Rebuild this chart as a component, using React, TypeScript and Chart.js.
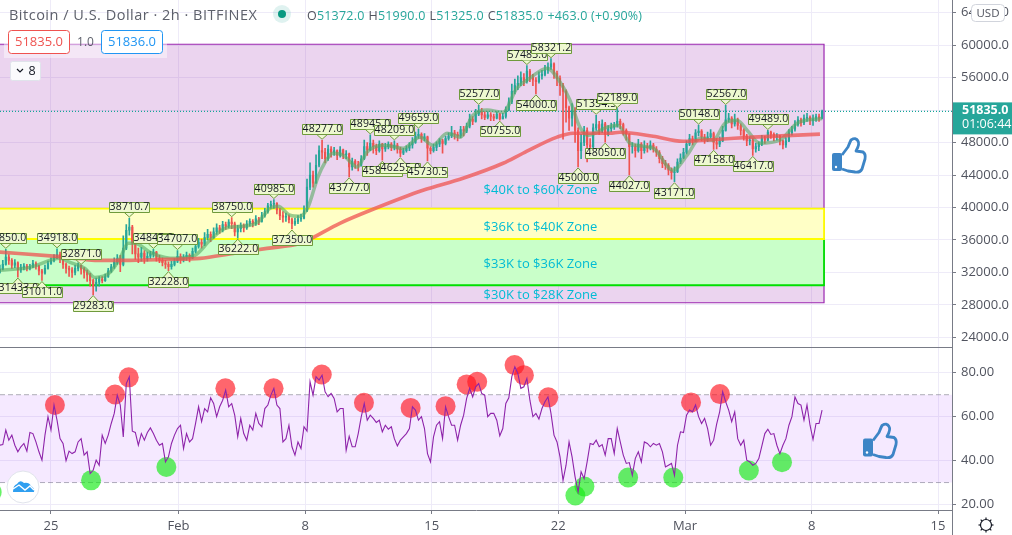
import React, { useEffect, useRef } from "react";
import { Chart, registerables } from "chart.js";

Chart.register(...registerables);

// ---------- data (bars are 4h steps, x axis unit = bar number) ----------
const closes = [32400,33000,33900,33500,32900,33200,32300,32600,32800,32500,32700,33100,32800,32200,31900,32500,33100,33500,33900,34200,33800,33000,32500,32300,32000,32500,32900,32400,32000,31700,31000,30300,30800,31200,31000,31500,32200,32700,33300,33700,33000,35000,37200,37600,35600,34300,33900,34400,33700,34000,34300,34500,33800,33500,33200,33000,32700,33000,33400,34000,33600,33900,34100,33800,34600,35200,35700,35500,36300,36700,36300,37000,37500,37200,37900,37700,38200,38000,37000,37400,37800,37500,38000,38300,38000,38600,38300,39000,39500,40200,40400,40500,39700,39000,38800,38900,38500,38000,38300,38600,38700,39600,42500,44000,43000,45200,47000,46800,46000,47200,46800,47000,46400,47100,46500,46600,45000,45700,45300,45200,46000,47500,47100,47900,47500,47000,47800,47200,47500,47800,47400,47700,47200,46700,47000,47300,47700,48000,48800,49000,48500,48700,47300,47000,47400,47800,48200,47900,48500,48800,49200,49000,48800,49600,49400,50000,50900,50600,51500,51800,51400,51100,51400,51200,51000,51500,50900,51200,52000,53000,54300,55000,55300,56000,55500,56800,56000,55700,55500,56200,56400,56900,57300,57700,56500,55900,55000,54300,52300,51000,52000,49500,47000,48000,49500,47700,47500,49800,50200,49500,50300,49000,49700,49900,50100,50600,50200,49500,49000,47500,47500,47000,47800,47000,47500,47300,47700,47200,46800,46000,45400,45200,44600,44300,44400,45600,46100,46800,47800,48500,48200,49200,49400,48700,48400,48700,49100,48000,47800,48200,49500,50800,51000,50300,50800,50100,49500,48800,48200,48300,47200,47500,47800,48500,48300,49300,49000,48700,48800,48200,47700,48200,49200,49600,50200,50800,50400,51000,51100,50700,50900,51200,51000,51835];
const highs = [32900,33500,34850,34200,33700,33600,33300,33000,33100,33000,33000,33500,33300,32900,32400,32900,33400,33800,34200,34918,34500,34000,33200,32800,32600,32900,33200,32871,32600,32300,31900,31200,31300,31500,31500,31800,32500,33000,33800,34200,34100,36500,37900,38710.7,37800,35900,35000,35100,34700,34500,34600,34845,34600,34100,33800,33500,33300,33400,33700,34707,34300,34200,34500,34300,35000,35700,36200,36100,36900,37300,37000,37500,38000,37800,38300,38200,38500,38750,38200,37800,38100,38000,38400,38600,38500,39000,38800,39400,39900,40500,40800,40985,40600,39900,39500,39300,39100,38700,38700,39000,39200,40200,43500,45500,44500,46500,47600,48277,47300,47700,47500,47400,47100,47500,47200,47000,46700,46100,45900,45700,46400,48300,48000,48945,48300,47800,48200,47900,47900,48100,48000,48209,47900,47400,47300,47600,48000,48600,49300,49659,49200,49100,48800,47500,47800,48100,48500,48400,48800,49200,50000,49500,49300,50000,50000,50400,51500,51200,52100,52577,52200,51800,51800,51700,51500,51800,51600,51600,52400,53500,55200,55800,56200,56700,56500,57483,57000,56400,56000,56700,56900,57500,57800,58321.2,57800,56800,56200,55300,54500,52500,52800,52300,49800,49000,50000,49800,48500,50300,51354.5,50600,50800,50500,50100,50400,50500,52189,50900,50400,49700,49100,48000,47800,48400,48000,48200,47900,48200,47900,47500,47000,46300,45800,45400,44900,45000,46000,46600,47300,48200,49000,48800,49600,50148,49600,49000,49300,49600,49300,48500,48700,50000,52567,51600,51200,51500,51000,50300,49700,49000,48700,48500,47900,48100,48900,48800,49489,49400,49200,49100,48900,48300,48600,49600,50000,50700,51200,51000,51400,51600,51300,51400,51500,51500,51990];
const lows = [31900,32300,32900,33000,32500,32600,31430,32000,32300,32200,32300,32600,32400,31700,31011,31800,32400,33000,33300,33700,33200,32500,31900,31500,31400,31700,32200,31800,31300,30900,30300,29283,29700,30300,30700,30900,31400,32000,32500,33000,32100,32800,34800,36600,34300,33600,33200,33400,33100,33400,33700,33900,33400,33200,32800,32500,32228,32400,32800,33200,33100,33300,33500,33300,33700,34400,35000,35000,35300,36000,35800,36200,36700,36800,37000,37300,37500,37400,36500,36222,37000,37000,37300,37700,37600,37800,37900,38200,38800,39300,39900,39900,39200,38500,38200,38300,38100,37350,37800,38000,38300,38600,39500,42200,42500,43000,45000,46000,45500,45800,46200,46400,45900,46200,46000,46000,43777,44600,44800,44500,45100,45900,46400,47000,46700,46500,46800,45820,46900,47200,47000,47100,46700,46255,46500,46800,47000,47300,47900,48500,48000,48200,45730.5,46600,46800,47000,47500,46700,47700,48300,48600,48400,48200,48600,48800,49200,49800,50200,50500,51300,50900,50800,50900,50700,50700,50900,50755,50900,51000,51900,52800,54000,54500,55000,55000,55300,55500,55000,54000,55300,55800,56200,56500,57000,55900,55000,53800,48400,50500,49500,50000,48000,45000,46000,47600,45600,46800,47300,49500,49000,49200,48050,48800,49300,49600,49900,49700,48900,48300,44027,46700,46200,46800,46000,46700,46800,47100,46800,46300,45500,44900,44700,44000,43500,43171,44300,45400,46000,46600,47600,47700,48100,48800,48200,47900,48100,48500,47158,47200,47500,48100,49400,50500,49800,50000,49600,48900,48300,47600,47700,46417,46800,47000,47600,47900,48200,48500,48200,48300,47700,47200,47400,48100,48900,49400,50000,50000,50200,50600,50200,50100,50600,50600,50900];

const fastMaBars = [0,10,20,23.3,28.3,31.6,36.6,39.9,42.6,44.9,49.9,54.9,58.2,64.8,69.8,74.8,79.8,85.7,89.7,92.4,96.4,99.7,102.3,105.6,108,110.6,114,116.9,118.6,121.9,127.2,133.9,139.5,143.8,148.5,152.8,157.1,161.8,167.1,171.7,176,181.7,186,189.3,192.6,195.3,201.6,205.2,209.2,216.9,223.5,228.2,232.5,236.8,240.8,244.8,248.1,252.4,259,264.7,273];
const fastMaValues = [32260,32630,33740,33240,32500,31390,32010,33740,35590,35590,34480,33860,33740,34110,35960,37440,37680,38180,39900,40150,39040,38920,40020,43720,45570,46680,46440,45450,44960,46810,47670,47300,48660,47670,49150,48660,51370,51990,51740,54700,55930,57160,55440,53220,49890,48900,49890,50140,47920,47300,44590,46440,48530,48280,50380,50750,49520,47920,48280,50380,50960];
const slowMaBars = [0,19,33.3,40.9,55.5,66.5,77.4,88.7,99.7,112.9,123.9,140.5,153.8,167.1,173.7,185,190.3,202.6,205.9,216.9,226.8,239.1,250.1,272.3];
const slowMaValues = [34510,33980,33490,33490,33610,33740,34350,34970,35590,38060,39780,42120,43600,45450,46680,48660,49150,49150,49270,48780,48160,48410,48660,49030];

const rsiValues = [47,47.3,53.9,49.3,51.6,47,44,46.3,47.8,44.3,52.8,52.3,48.5,44,40.2,51.6,60,53.9,65.3,58.4,50,47.8,40,44.3,43.2,44,48.5,50,42.5,44,34.1,35.6,40.2,37.9,51.6,47.8,51.6,56.9,61.5,69.8,65.3,50.8,75.1,78.2,53.4,52.8,47,52.3,49.3,52.8,54.9,52.3,49.3,47,47.8,39.4,41.7,47.8,51.6,54.6,56.1,45.5,52.3,48.5,50,56.9,64.5,57.7,63.7,62.2,68.6,66,60,64.5,67.5,72.1,64.5,66,60.7,50.8,59.2,52.3,49.3,56.1,53.9,61.5,56.9,55.4,63.7,65.3,69.8,72.9,65.3,63.7,48.5,50,56.1,46.3,42.5,48.5,45.5,55.4,53.4,75.9,69.8,78.2,76.7,78.9,71.3,69.1,70.6,68.3,62.2,63.7,63.7,44.7,51.1,46.3,46.3,52.3,59.9,66,58.4,60.7,59.2,57.4,58.4,53.1,56.1,54.3,55.4,50,46.7,49.3,50.8,52.3,54.6,64.5,63,58.4,60,54.6,43.2,39.4,50.8,56.1,57.7,50,64.5,60,56.1,56.1,49.3,56.1,60.7,68.3,72.9,69,73.6,75.1,70.6,69.8,60,61.5,61.5,58.4,51.3,54.6,66,68.6,78.2,82.7,79.7,72.9,73.6,77.4,67.5,60,61.5,58.9,63.7,66.8,69,61.5,51.6,48.5,41.7,31,37.9,48.5,41.7,32.6,25.7,34.9,31.8,39.4,47.8,47.3,49.3,46.3,47.3,42.5,50,50,43.2,54.6,48.5,42.5,38.7,39.1,33.3,41,44,39.4,48.5,47.8,46.3,47.8,47,47.8,44,37.1,37.9,38.7,33.3,47,53.1,52.8,60.7,63,62.2,65.3,60,56.9,59.2,54.6,47,49.3,56.6,62.2,71.3,66.8,63,57.7,62.2,50,47,49.3,40.2,39.4,37.9,38.7,40.9,46.6,52.3,54.3,51.9,52.3,47,43.2,47,50,56.1,60,69,66,65.3,58.4,65.3,56.1,49.6,56.9,56.9,63];

const redDotBars = [18.3,38.25,42.8,74.9,90.9,106.9,120.9,136.4,148,155,158.5,170.9,174,182.1,229.5,239.1];
const redDotRsi = [65.3,70.1,77.9,72.9,72.9,79.2,66.3,64,64.8,74.7,75.9,83.5,78.9,68.8,66.5,70.3];
const greenDotBars = [-2.7,30.3,55.3,191.1,194.1,208.6,223.6,248.7,259.7];
const greenDotRsi = [25.7,31,37.1,24.1,28.2,32.3,32.3,35.5,39.3];

const highPivotBars = [2,19,27,43,51,59,77,91,107,123,131,139,159,175,183,198,205,232,241,255];
const highPivotPrices = [34850,34918,32871,38710.7,34845,34707,38750,40985,48277,48945,48209,49659,52577,57483,58321.2,51354.5,52189,50148,52567,49489];
const lowPivotBars = [6,14,31,56,79,97,116,127,133,142,166,178,192,201,209,224,237,250];
const lowPivotPrices = [31433,31011,29283,32228,36222,37350,43777,45820,46255,45730.5,50755,54000,45000,48050,44027,43171,47158,46417];

const zoneTops = [60100, 36120, 39850];
const zoneBottoms = [28275, 30430, 36120];
const zoneEndBar = 273.65;
const zoneTexts = ["$40K to $60K Zone", "$36K to $40K Zone", "$33K to $36K Zone", "$30K to $28K Zone"];
const zoneTextPrices = [42150, 37600, 32950, 29250];
const zoneTextBar = 179.5;

const priceTicks = [64000,60000,56000,52000,48000,44000,40000,36000,32000,28000,24000];
const rsiTicks = [80,60,40,20];
const timeTickBars = [17,59.3,101.4,143.4,185.4,227.5,269.6,311.5];
const timeTickLabels = ["25","Feb","8","15","22","Mar","8","15"];

const lastPrice = 51835;
const ohlcPairs: [string, string][] = [["O","51372.0"],["H","51990.0"],["L","51325.0"],["C","51835.0"]];
const ohlcChange = "+463.0 (+0.90%)";
const title = "Bitcoin / U.S. Dollar · 2h · BITFINEX";

// ---------- style ----------
const UP = "#26a69a";
const DOWN = "#ef5350";
const AXIS = "#787b86";
const GRID = "#eeebf8";
const TXT = "#50535e";
const FONT = "'Open Sans', 'Noto Sans', sans-serif";
const ZONE_FILLS = ["rgba(156,39,176,0.2)", "#c9ffc9", "#ffffc6"];
const ZONE_LINES = ["#9c27b0", "#00e000", "#ffff00"];
const X_MIN = 0.07;
const X_MAX = 316.14;

function roundBox(ctx: CanvasRenderingContext2D, x: number, y: number, w: number, h: number, r: number) {
  ctx.beginPath();
  ctx.roundRect(x, y, w, h, r);
}

function drawCallout(ctx: CanvasRenderingContext2D, x: number, y: number, text: string, above: boolean) {
  const w = 40, h = 10, gap = 5;
  const boxY = above ? y - gap - h : y + gap;
  const baseY = above ? boxY + h : boxY;
  ctx.fillStyle = "#eef9d0";
  ctx.strokeStyle = "#6f9a3c";
  ctx.lineWidth = 1;
  ctx.beginPath();
  ctx.rect(Math.round(x - w / 2) + 0.5, Math.round(boxY) + 0.5, w, h);
  ctx.fill();
  ctx.stroke();
  ctx.beginPath();
  ctx.moveTo(x - 5, baseY + 1);
  ctx.lineTo(x, y);
  ctx.lineTo(x + 5, baseY + 1);
  ctx.closePath();
  ctx.fill();
  ctx.beginPath();
  ctx.moveTo(x - 5, baseY + 0.5);
  ctx.lineTo(x, y);
  ctx.lineTo(x + 5, baseY + 0.5);
  ctx.stroke();
  ctx.fillStyle = "#131722";
  ctx.font = `10.5px ${FONT}`;
  (ctx as any).letterSpacing = "0.15px";
  ctx.textAlign = "center";
  ctx.textBaseline = "middle";
  ctx.fillText(text, Math.round(x) + 0.5, Math.round(boxY) + 5.5);
  (ctx as any).letterSpacing = "0px";
}

function drawThumb(ctx: CanvasRenderingContext2D, ox: number, oy: number) {
  ctx.save();
  ctx.translate(ox, oy);
  ctx.fillStyle = "#3d85c6";
  ctx.strokeStyle = "#3d85c6";
  roundBox(ctx, 0, 15, 10, 18, 2);
  ctx.fill();
  ctx.fillStyle = "#fff";
  ctx.beginPath();
  ctx.arc(4, 29, 1.2, 0, Math.PI * 2);
  ctx.fill();
  ctx.lineWidth = 2.8;
  ctx.lineJoin = "round";
  ctx.beginPath();
  ctx.moveTo(10, 17);
  ctx.lineTo(16, 9);
  ctx.quadraticCurveTo(18, 4, 19, 2);
  ctx.quadraticCurveTo(24, -1, 26, 3);
  ctx.quadraticCurveTo(28, 6, 24, 13);
  ctx.lineTo(31, 14);
  ctx.quadraticCurveTo(34, 16, 33, 21);
  ctx.lineTo(30, 31);
  ctx.quadraticCurveTo(28, 35, 23, 34);
  ctx.lineTo(16, 33);
  ctx.lineTo(10, 31);
  ctx.stroke();
  ctx.restore();
}

const zeroPadding = (s: any) => {
  s.paddingTop = 0;
  s.paddingBottom = 0;
  s.paddingLeft = 0;
  s.paddingRight = 0;
};

const chromePlugin = {
  id: "chrome",
  beforeDatasetsDraw(chart: any) {
    const ctx: CanvasRenderingContext2D = chart.ctx;
    const { x, yPrice } = chart.scales;
    ctx.save();
    const right = x.getPixelForValue(zoneEndBar);
    zoneTops.forEach((top, i) => {
      const y0 = yPrice.getPixelForValue(top);
      const y1 = yPrice.getPixelForValue(zoneBottoms[i]);
      ctx.fillStyle = ZONE_FILLS[i];
      ctx.fillRect(0, y0, right, y1 - y0);
      ctx.strokeStyle = ZONE_LINES[i];
      ctx.lineWidth = i === 0 ? 1.2 : 1.8;
      ctx.beginPath();
      ctx.moveTo(0, y0);
      ctx.lineTo(right, y0);
      ctx.lineTo(right, y1);
      ctx.lineTo(0, y1);
      ctx.stroke();
    });
    ctx.fillStyle = "#00bcd4";
    ctx.font = `13px ${FONT}`;
    ctx.textAlign = "center";
    ctx.textBaseline = "middle";
    zoneTexts.forEach((t, i) => {
      ctx.fillText(t, x.getPixelForValue(zoneTextBar), yPrice.getPixelForValue(zoneTextPrices[i]));
    });
    ctx.restore();
  },
  afterDatasetsDraw(chart: any) {
    const ctx: CanvasRenderingContext2D = chart.ctx;
    const { x, yPrice } = chart.scales;
    ctx.save();
    highPivotBars.forEach((b, i) =>
      drawCallout(ctx, x.getPixelForValue(b), yPrice.getPixelForValue(highPivotPrices[i]) - 1, highPivotPrices[i].toFixed(1), true));
    lowPivotBars.forEach((b, i) =>
      drawCallout(ctx, x.getPixelForValue(b), yPrice.getPixelForValue(lowPivotPrices[i]) + 1, lowPivotPrices[i].toFixed(1), false));
    drawThumb(ctx, 832, 138);
    drawThumb(ctx, 863, 423.5);
    ctx.restore();
  },
  afterDraw(chart: any) {
    const ctx: CanvasRenderingContext2D = chart.ctx;
    const { yPrice } = chart.scales;
    ctx.save();
    // pane separators
    ctx.strokeStyle = AXIS;
    ctx.lineWidth = 1;
    ctx.beginPath();
    ctx.moveTo(0, 347.5);
    ctx.lineTo(952, 347.5);
    ctx.moveTo(952.5, 0);
    ctx.lineTo(952.5, 535);
    ctx.stroke();

    // header
    ctx.textBaseline = "alphabetic";
    ctx.textAlign = "left";
    ctx.fillStyle = "#5d606b";
    ctx.font = `14.5px ${FONT}`;
    (ctx as any).letterSpacing = "0.5px";
    ctx.fillText(title, 9, 20);
    ctx.fillStyle = "rgba(38,166,154,0.15)";
    ctx.beginPath();
    ctx.arc(282, 14, 9, 0, Math.PI * 2);
    ctx.fill();
    ctx.fillStyle = "#089981";
    ctx.beginPath();
    ctx.arc(282, 14, 4, 0, Math.PI * 2);
    ctx.fill();
    ctx.font = `12.5px ${FONT}`;
    (ctx as any).letterSpacing = "0.2px";
    let cx = 307;
    ohlcPairs.forEach(([k, v]) => {
      ctx.fillStyle = "#50535e";
      ctx.fillText(k, cx, 20);
      cx += ctx.measureText(k).width;
      ctx.fillStyle = UP;
      ctx.fillText(v, cx, 20);
      cx += ctx.measureText(v).width + 4;
    });
    ctx.fillStyle = UP;
    ctx.fillText(ohlcChange, cx, 20);
    (ctx as any).letterSpacing = "0px";

    // trade buttons
    ctx.fillStyle = "rgba(255,255,255,0.45)";
    ctx.fillRect(4, 30, 163, 28);
    ctx.lineWidth = 1;
    ctx.fillStyle = "#fff";
    ctx.strokeStyle = DOWN;
    roundBox(ctx, 8.5, 30.5, 61, 23, 3);
    ctx.fill();
    ctx.stroke();
    ctx.strokeStyle = "#2196f3";
    roundBox(ctx, 101.5, 30.5, 61, 23, 3);
    ctx.fill();
    ctx.stroke();
    ctx.textAlign = "center";
    ctx.textBaseline = "middle";
    ctx.font = `13px ${FONT}`;
    ctx.fillStyle = DOWN;
    ctx.fillText("51835.0", 39, 42.5);
    ctx.fillStyle = "#2196f3";
    ctx.fillText("51836.0", 132, 42.5);
    ctx.fillStyle = "#5d606b";
    ctx.font = `12px ${FONT}`;
    ctx.fillText("1.0", 85.5, 42.5);

    // collapse button
    ctx.fillStyle = "#fafafc";
    ctx.strokeStyle = "#e0e3eb";
    roundBox(ctx, 10.5, 61.5, 30, 19, 2);
    ctx.fill();
    ctx.stroke();
    ctx.strokeStyle = "#131722";
    ctx.lineWidth = 1.2;
    ctx.beginPath();
    ctx.moveTo(17, 69);
    ctx.lineTo(20, 72);
    ctx.lineTo(23, 69);
    ctx.stroke();
    ctx.fillStyle = "#131722";
    ctx.font = `12.5px ${FONT}`;
    ctx.fillText("8", 32, 71);

    // last price tag
    const tagY = yPrice.getPixelForValue(lastPrice);
    ctx.fillStyle = UP;
    ctx.fillRect(953, tagY - 9, 59, 32);
    ctx.fillStyle = "#fff";
    ctx.textAlign = "left";
    ctx.font = `bold 12.5px ${FONT}`;
    ctx.fillText(lastPrice.toFixed(1), 962, tagY - 0.5);
    ctx.font = `12.5px ${FONT}`;
    ctx.fillText("01:06:44", 962, tagY + 13.5);

    // USD tab
    ctx.fillStyle = "#fff";
    ctx.strokeStyle = "#d1d4dc";
    ctx.lineWidth = 1;
    roundBox(ctx, 971.5, 4.5, 33, 17, 4);
    ctx.fill();
    ctx.stroke();
    ctx.fillStyle = "#50535e";
    ctx.textAlign = "center";
    ctx.font = `11.5px ${FONT}`;
    ctx.fillText("USD", 988, 13.5);

    // settings gear
    ctx.strokeStyle = "#131722";
    ctx.lineWidth = 1.2;
    ctx.beginPath();
    ctx.arc(986, 525, 5.5, 0, Math.PI * 2);
    ctx.stroke();
    for (let k = 0; k < 8; k++) {
      const a = (k * Math.PI) / 4;
      ctx.beginPath();
      ctx.moveTo(986 + Math.cos(a) * 5.5, 525 + Math.sin(a) * 5.5);
      ctx.lineTo(986 + Math.cos(a) * 7.5, 525 + Math.sin(a) * 7.5);
      ctx.stroke();
    }

    // logo
    ctx.fillStyle = "#fff";
    ctx.strokeStyle = "#e0e3eb";
    ctx.lineWidth = 1;
    ctx.beginPath();
    ctx.arc(23, 487, 16, 0, Math.PI * 2);
    ctx.fill();
    ctx.stroke();
    ctx.fillStyle = "#2f9ff0";
    ctx.beginPath();
    ctx.moveTo(13, 492);
    ctx.quadraticCurveTo(13, 485, 17, 484);
    ctx.quadraticCurveTo(20, 479, 24, 483);
    ctx.quadraticCurveTo(29, 482, 31, 486);
    ctx.quadraticCurveTo(35, 488, 34, 492);
    ctx.closePath();
    ctx.fill();
    ctx.strokeStyle = "#fff";
    ctx.lineWidth = 1.4;
    ctx.beginPath();
    ctx.moveTo(13, 489);
    ctx.lineTo(19, 485);
    ctx.lineTo(25, 490);
    ctx.lineTo(30, 486);
    ctx.lineTo(34, 490);
    ctx.stroke();
    ctx.restore();
  },
};

export default function App() {
  const ref = useRef<HTMLCanvasElement | null>(null);

  useEffect(() => {
    if (!ref.current) return;
    const opens = closes.map((_, i) => (i === 0 ? 32000 : closes[i - 1]));
    const colors = closes.map((c, i) => (c >= opens[i] ? UP : DOWN));
    const pts = (xs: number[], ys: number[]) => xs.map((x, i) => ({ x, y: ys[i] }));
    const band = (v: number) => [{ x: X_MIN, y: v }, { x: X_MAX, y: v }];

    const chart = new Chart(ref.current, {
      type: "bar",
      plugins: [chromePlugin],
      data: {
        datasets: [
          { type: "line", label: "slow", xAxisID: "x", yAxisID: "yPrice", order: 1, data: pts(slowMaBars, slowMaValues), borderColor: "rgba(239,83,80,0.75)", borderWidth: 3.6, pointRadius: 0, cubicInterpolationMode: "monotone" },
          { type: "line", label: "fast", xAxisID: "x", yAxisID: "yPrice", order: 2, data: pts(fastMaBars, fastMaValues), borderColor: "rgba(90,170,100,0.6)", borderWidth: 3.5, pointRadius: 0, cubicInterpolationMode: "monotone" },
          { type: "line", label: "last", xAxisID: "x", yAxisID: "yPrice", order: 3, data: band(lastPrice), borderColor: "#14a596", borderWidth: 1.2, borderDash: [1, 2], pointRadius: 0 },
          { type: "bar", label: "bodies", xAxisID: "x", yAxisID: "yPrice", order: 4, grouped: false, barThickness: 1.5, data: closes.map((c, i) => ({ x: i, y: [opens[i], c] })), backgroundColor: colors },
          { type: "bar", label: "wicks", xAxisID: "x", yAxisID: "yPrice", order: 5, grouped: false, barThickness: 1, data: closes.map((_, i) => ({ x: i, y: [lows[i], highs[i]] })), backgroundColor: colors },
          { type: "line", label: "rsi", xAxisID: "x", yAxisID: "yRsi", order: 6, data: rsiValues.map((v, i) => ({ x: i, y: v })), borderColor: "#8e24aa", borderWidth: 1.1, pointRadius: 0, tension: 0 },
          { type: "scatter", label: "over", xAxisID: "x", yAxisID: "yRsi", order: 7, data: pts(redDotBars, redDotRsi), backgroundColor: "rgba(255,20,30,0.65)", pointRadius: 10, pointBorderWidth: 0 },
          { type: "scatter", label: "under", xAxisID: "x", yAxisID: "yRsi", order: 8, data: pts(greenDotBars, greenDotRsi), backgroundColor: "rgba(20,235,20,0.65)", pointRadius: 10, pointBorderWidth: 0 },
          { type: "line", label: "rsi70", xAxisID: "x", yAxisID: "yRsi", order: 9, data: band(70), borderColor: "rgba(120,123,134,0.6)", borderWidth: 1, borderDash: [5, 3], pointRadius: 0, fill: "+1", backgroundColor: "rgba(156,39,255,0.1)" },
          { type: "line", label: "rsi30", xAxisID: "x", yAxisID: "yRsi", order: 10, data: band(30), borderColor: "rgba(120,123,134,0.6)", borderWidth: 1, borderDash: [5, 3], pointRadius: 0 },
        ],
      } as any,
      options: {
        animation: false,
        responsive: false,
        devicePixelRatio: 1,
        layout: { padding: 0, autoPadding: false },
        plugins: { legend: { display: false }, tooltip: { enabled: false } },
        scales: {
          x: {
            type: "linear",
            position: "bottom",
            offset: false,
            min: X_MIN,
            max: X_MAX,
            afterBuildTicks: (s: any) => { s.ticks = timeTickBars.map((value) => ({ value })); },
            afterFit: (s: any) => { s.height = 25; zeroPadding(s); },
            ticks: {
              autoSkip: false,
              maxRotation: 0,
              padding: 4,
              color: TXT,
              font: { family: FONT, size: 13 },
              callback: (_: any, i: number) => timeTickLabels[i],
            },
            grid: { offset: false, color: GRID, tickColor: AXIS, tickLength: 4 },
            border: { color: AXIS },
          },
          yPrice: {
            type: "linear",
            position: "right",
            stack: "panes",
            stackWeight: 347.5,
            min: 22763,
            max: 65549,
            afterBuildTicks: (s: any) => { s.ticks = priceTicks.map((value) => ({ value })); },
            afterFit: (s: any) => { s.width = 60; zeroPadding(s); },
            ticks: {
              autoSkip: false,
              padding: 5,
              color: TXT,
              font: { family: FONT, size: 13 },
              callback: (v: any) => Number(v).toFixed(1),
            },
            grid: { color: GRID, tickColor: AXIS, tickLength: 4 },
            border: { color: AXIS },
          },
          yRsi: {
            type: "linear",
            position: "right",
            stack: "panes",
            stackWeight: 162.5,
            min: 17.5,
            max: 91.5,
            afterBuildTicks: (s: any) => { s.ticks = rsiTicks.map((value) => ({ value })); },
            afterFit: (s: any) => { s.width = 60; zeroPadding(s); },
            ticks: {
              autoSkip: false,
              padding: 5,
              color: TXT,
              font: { family: FONT, size: 13 },
              callback: (v: any) => Number(v).toFixed(2),
            },
            grid: { color: GRID, tickColor: AXIS, tickLength: 4 },
            border: { color: AXIS },
          },
        },
      } as any,
    });
    return () => chart.destroy();
  }, []);

  return (
    <div style={{ position: "fixed", left: 0, top: 0, width: 1012, height: 535, background: "#fff" }}>
      <canvas ref={ref} width={1012} height={535} style={{ display: "block" }} />
    </div>
  );
}
